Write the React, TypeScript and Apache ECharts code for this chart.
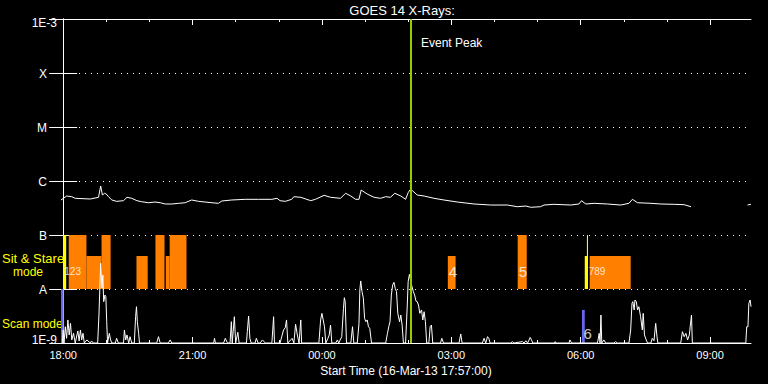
import React, { useEffect, useRef } from "react";
import * as echarts from "echarts";

// ---- Data (hours after 18:00 on 16-Mar-13, flux in W/m^2) ----
const X_MIN = -0.05; // 17:57
const X_MAX = 15.95; // 09:57

const xTickHours = [0, 3, 6, 9, 12, 15];
const xTickLabels = ["18:00", "21:00", "00:00", "03:00", "06:00", "09:00"];
const hourTicks = [0, 1, 2, 3, 4, 5, 6, 7, 8, 9, 10, 11, 12, 13, 14, 15];

const yTickExponents = [-9, -8, -7, -6, -5, -4, -3];
const yTickLabels = ["1E-9", "A", "B", "C", "M", "X", "1E-3"];

// GOES long channel (1-8 A)
const longChannel: [number, number | null][] = [
  [-0.05, 4.45e-7], [0.08, 5.27e-7], [0.2, 5.12e-7], [0.28, 4.78e-7], [0.63, 4.64e-7], [0.82, 4.99e-7],
  [0.87, 8.08e-7], [0.91, 5.5e-7], [0.96, 5.92e-7], [1.0, 5.74e-7], [1.05, 5.12e-7], [1.13, 4.45e-7],
  [1.24, 4.2e-7], [1.4, 4.32e-7], [1.48, 4.99e-7], [1.59, 4.78e-7], [1.71, 4.32e-7], [1.82, 4.13e-7],
  [1.98, 3.96e-7], [2.13, 4.08e-7], [2.25, 3.96e-7], [2.37, 3.75e-7], [2.52, 3.75e-7], [2.68, 3.86e-7],
  [2.83, 3.96e-7], [2.98, 4.45e-7], [3.14, 4.2e-7], [3.29, 4.08e-7], [3.45, 3.96e-7], [3.6, 3.86e-7],
  [3.68, 4.26e-7], [3.91, 4.45e-7], [4.22, 4.58e-7], [4.53, 4.58e-7], [4.84, 4.58e-7], [4.96, 4.78e-7],
  [5.03, 4.32e-7], [5.15, 4.2e-7], [5.3, 4.58e-7], [5.35, 5.12e-7], [5.51, 4.99e-7], [5.74, 4.32e-7],
  [5.85, 4.58e-7], [6.05, 5.43e-7], [6.2, 4.99e-7], [6.43, 4.78e-7], [6.55, 5.92e-7], [6.67, 5.27e-7],
  [6.78, 4.58e-7], [6.86, 4.58e-7], [6.91, 6.81e-7], [7.05, 5.74e-7], [7.21, 4.99e-7], [7.36, 4.78e-7],
  [7.48, 5.12e-7], [7.59, 4.99e-7], [7.69, 5.92e-7], [7.83, 5.27e-7], [7.94, 4.58e-7], [8.0, 6.07e-7],
  [8.04, 6.81e-7], [8.1, 6.61e-7], [8.21, 5.5e-7], [8.37, 5.27e-7], [8.6, 4.78e-7], [8.83, 4.45e-7],
  [9.14, 4.08e-7], [9.53, 3.75e-7], [9.91, 3.59e-7], [10.3, 3.59e-7], [10.53, 3.34e-7], [10.73, 3.44e-7],
  [10.84, 3.26e-7], [11.07, 3.34e-7], [11.15, 3.59e-7], [11.38, 3.7e-7], [11.77, 3.59e-7], [11.96, 3.75e-7],
  [12.02, 4.32e-7], [12.12, 3.75e-7], [12.31, 3.86e-7], [12.62, 3.75e-7], [12.93, 3.59e-7], [13.12, 3.86e-7],
  [13.2, 4.58e-7], [13.32, 3.96e-7], [13.63, 3.86e-7], [13.86, 3.75e-7], [14.17, 3.7e-7], [14.4, 3.64e-7],
  [14.56, 3.34e-7], [14.6, null], [15.87, 3.59e-7], [15.95, 3.7e-7],
];

// GOES short channel (0.5-4 A)
const shortChannel: [number, number][] = [
  [-0.02, 1e-9], [0.0, 1.74e-9], [0.02, 1e-9], [0.05, 2.0e-9], [0.08, 1.22e-9], [0.11, 2.67e-9], [0.14, 1.41e-9],
  [0.17, 2.31e-9], [0.2, 1.14e-9], [0.24, 1.51e-9], [0.28, 1e-9], [0.34, 1.67e-9], [0.37, 1.09e-9], [0.4, 1.74e-9],
  [0.43, 1.14e-9], [0.46, 1.51e-9], [0.49, 1e-9], [0.55, 1.14e-9], [0.63, 1e-9], [0.66, 1.09e-9], [0.7, 1e-9],
  [0.8, 1e-9], [0.83, 3.3e-9], [0.87, 3.0e-8], [0.9, 1.03e-8], [0.92, 1.81e-8], [0.94, 5.83e-9], [0.97, 7.74e-9],
  [0.99, 7.2e-9], [1.01, 2.48e-9], [1.03, 1e-9], [1.07, 1.51e-9], [1.1, 1.14e-9], [1.13, 1e-9], [1.21, 1e-9],
  [1.24, 1.22e-9], [1.28, 1e-9], [1.4, 1e-9], [1.42, 1.74e-9], [1.45, 1.14e-9], [1.48, 1.41e-9], [1.52, 1e-9],
  [1.55, 1.31e-9], [1.59, 1e-9], [1.65, 1e-9], [1.68, 3.07e-9], [1.7, 4.7e-9], [1.72, 2.48e-9], [1.75, 1.51e-9],
  [1.77, 1e-9], [2.17, 1e-9], [2.21, 1.31e-9], [2.25, 1e-9], [2.44, 1e-9], [2.48, 1.14e-9], [2.52, 1e-9],
  [3.49, 1e-9], [3.51, 1.22e-9], [3.53, 1e-9], [3.72, 1e-9], [3.76, 1.22e-9], [3.81, 1e-9], [3.87, 1e-9],
  [3.9, 2.48e-9], [3.92, 1e-9], [3.97, 3.07e-9], [4.0, 1e-9], [4.05, 1.58e-9], [4.08, 1e-9], [4.25, 1e-9],
  [4.27, 1.62e-9], [4.3, 3.16e-9], [4.33, 1.22e-9], [4.36, 1e-9], [4.45, 1e-9], [4.48, 1.22e-9], [4.52, 1e-9],
  [4.57, 1e-9], [4.62, 1.14e-9], [4.69, 1e-9], [4.84, 1e-9], [4.88, 3.07e-9], [4.9, 1e-9], [5.03, 1e-9],
  [5.11, 1.74e-9], [5.15, 1.92e-9], [5.18, 2.67e-9], [5.21, 1e-9], [5.31, 1.22e-9], [5.35, 1e-9], [5.39, 2.22e-9],
  [5.43, 1.41e-9], [5.47, 1e-9], [5.51, 2.67e-9], [5.53, 1e-9], [5.93, 1e-9], [5.97, 2.67e-9], [6.0, 3.54e-9],
  [6.03, 2.67e-9], [6.06, 2.0e-9], [6.09, 1e-9], [6.14, 1.22e-9], [6.17, 1.41e-9], [6.2, 2.15e-9], [6.23, 1e-9],
  [6.32, 1e-9], [6.36, 1.14e-9], [6.39, 1e-9], [6.46, 1.31e-9], [6.5, 4.39e-9], [6.52, 6.9e-9], [6.54, 5.83e-9],
  [6.57, 1e-9], [6.67, 1e-9], [6.71, 2.0e-9], [6.74, 1e-9], [6.82, 1e-9], [6.86, 2.31e-9], [6.88, 9.6e-9],
  [6.9, 1.41e-8], [6.93, 8.93e-9], [6.96, 6.9e-9], [6.99, 2.86e-9], [7.02, 2.48e-9], [7.05, 2.67e-9], [7.08, 2.0e-9],
  [7.11, 1.87e-9], [7.15, 1e-9], [7.48, 1e-9], [7.52, 1.51e-9], [7.55, 2.0e-9], [7.58, 2.48e-9], [7.61, 7.74e-9],
  [7.64, 1.18e-8], [7.67, 1.33e-8], [7.7, 1.03e-8], [7.73, 8.93e-9], [7.76, 3.54e-9], [7.8, 2.48e-9], [7.83, 3.3e-9],
  [7.86, 2.15e-9], [7.89, 1e-9], [7.94, 1e-9], [7.98, 5.05e-9], [8.0, 1.37e-8], [8.03, 1.87e-8], [8.06, 1.37e-8],
  [8.09, 1.1e-8], [8.12, 8.93e-9], [8.15, 7.74e-9], [8.18, 6.0e-9], [8.21, 5.83e-9], [8.24, 5.05e-9], [8.27, 3.54e-9],
  [8.31, 4.09e-9], [8.34, 2.67e-9], [8.37, 3.8e-9], [8.4, 2.48e-9], [8.43, 1e-9], [8.48, 1e-9], [8.51, 2.0e-9],
  [8.54, 2.15e-9], [8.57, 1e-9], [8.75, 1e-9], [8.78, 1.22e-9], [8.82, 1e-9], [9.18, 1e-9], [9.22, 1.47e-9],
  [9.25, 1e-9], [9.72, 1e-9], [9.76, 1.22e-9], [9.8, 1e-9], [9.84, 1.31e-9], [9.87, 1.22e-9], [9.9, 1e-9],
  [10.38, 1e-9], [10.42, 1.06e-9], [10.45, 1e-9], [10.65, 1.06e-9], [10.69, 1e-9], [10.73, 1.1e-9], [10.77, 1e-9],
  [10.83, 1.27e-9], [10.86, 1.14e-9], [10.89, 1e-9], [11.38, 1e-9], [11.41, 1.06e-9], [11.43, 1e-9], [11.73, 1e-9],
  [11.75, 1.14e-9], [11.79, 1e-9], [12.39, 1e-9], [12.43, 1.51e-9], [12.45, 1e-9], [12.47, 3.3e-9], [12.49, 1e-9],
  [12.54, 1.14e-9], [12.58, 1e-9], [12.77, 1e-9], [12.81, 1.06e-9], [12.85, 1e-9], [13.12, 1e-9], [13.16, 1.74e-9],
  [13.19, 5.43e-9], [13.21, 5.83e-9], [13.24, 4.09e-9], [13.26, 6.26e-9], [13.29, 5.83e-9], [13.32, 4.09e-9],
  [13.35, 4.7e-9], [13.39, 3.07e-9], [13.43, 1.74e-9], [13.45, 3.54e-9], [13.48, 1.41e-9], [13.52, 1.14e-9],
  [13.55, 1e-9], [13.63, 1e-9], [13.66, 1.22e-9], [13.7, 1.1e-9], [13.74, 2.31e-9], [13.77, 1.31e-9], [13.79, 1e-9],
  [14.32, 1e-9], [14.36, 1.62e-9], [14.4, 1.31e-9], [14.44, 1.51e-9], [14.48, 1.14e-9], [14.52, 1.41e-9],
  [14.54, 2.0e-9], [14.57, 3.3e-9], [14.59, 1e-9], [15.83, 1e-9], [15.85, 2.0e-9], [15.88, 2.0e-9], [15.9, 5.43e-9],
  [15.93, 6.26e-9], [15.95, 4.7e-9],
];

// Sit & Stare mode intervals (orange)
const sitStareStart = [0.13, 0.54, 0.89, 1.7, 2.14, 2.38, 2.47, 8.92, 10.54, 12.21];
const sitStareEnd = [0.54, 0.89, 1.1, 1.96, 2.35, 2.47, 2.86, 9.1, 10.75, 13.16];
const sitStareTop = [1e-7, 4.08e-8, 1e-7, 4.08e-8, 1e-7, 4.08e-8, 1e-7, 4.08e-8, 1e-7, 4.08e-8];
const sitStareBottom = 1e-8;

// Mode-switch markers (yellow)
const markerStart = [0.0, 12.095, 12.145];
const markerEnd = [0.07, 12.17, 12.17];
const markerTop = [1e-7, 4.08e-8, 1e-7];

// Scan mode intervals (blue)
const scanStart = [-0.05, 12.03];
const scanEnd = [0.01, 12.095];
const scanTop = [1e-8, 4.09e-9];
const scanBottom = 1e-9;

// Event numbers (large single labels, and small clustered labels)
const eventNames = ["4", "5", "6"];
const eventHours = [9.04, 10.66, 12.16];
const eventFlux = [2.07e-8, 2.07e-8, 1.53e-9];
const clusterNames = ["1", "2", "3", "7", "8", "9"];
const clusterHours = [0.09, 0.22, 0.35, 12.25, 12.38, 12.51];
const clusterFlux = [2.07e-8, 2.07e-8, 2.07e-8, 2.07e-8, 2.07e-8, 2.07e-8];

const eventPeakHour = 8.06;

const FONT = '"Liberation Sans", Arial, sans-serif';

export default function App() {
  const ref = useRef<HTMLDivElement>(null);

  useEffect(() => {
    if (!ref.current) return;
    const chart = echarts.init(ref.current, null, { renderer: "svg" });

    const rectData = (starts: number[], ends: number[], bottoms: number, tops: number[]) =>
      starts.map((s, i) => [s, ends[i], bottoms, tops[i]]);

    const rectSeries = (name: string, data: number[][], color: string, z: number) => ({
      name,
      type: "custom",
      xAxisIndex: 0,
      yAxisIndex: 0,
      z,
      silent: true,
      encode: { x: [0, 1], y: [2, 3] },
      data,
      renderItem: (_params: any, api: any) => {
        const p0 = api.coord([api.value(0), api.value(3)]);
        const p1 = api.coord([api.value(1), api.value(2)]);
        return {
          type: "rect",
          shape: { x: p0[0], y: p0[1], width: p1[0] - p0[0], height: p1[1] - p0[1] },
          style: { fill: color },
        };
      },
    });

    const labelSeries = (name: string, names: string[], hours: number[], flux: number[], size: number) => ({
      name,
      type: "scatter",
      xAxisIndex: 0,
      yAxisIndex: 0,
      symbolSize: 0,
      z: 5,
      silent: true,
      data: names.map((n, i) => ({ name: n, value: [hours[i], flux[i]] })),
      label: {
        show: true,
        position: "inside",
        formatter: "{b}",
        color: "#ffffff",
        fontFamily: FONT,
        fontSize: size,
      },
    });

    const xBase = { type: "value", min: X_MIN, max: X_MAX, splitLine: { show: false } };
    const white = { color: "#ffffff", width: 1 };

    const option: any = {
      animation: false,
      backgroundColor: "#000000",
      grid: { left: 61, right: 17, top: 19, bottom: 41, containLabel: false },
      xAxis: [
        {
          ...xBase,
          position: "bottom",
          axisLine: { show: true, lineStyle: white },
          axisTick: { show: true, inside: true, length: 6, customValues: xTickHours, lineStyle: white },
          axisLabel: {
            show: true,
            customValues: xTickHours,
            formatter: (v: number) => {
              const i = xTickHours.findIndex((h) => Math.abs(h - v) < 1e-6);
              return i >= 0 ? xTickLabels[i] : "";
            },
            color: "#ffffff",
            fontFamily: FONT,
            fontSize: 11,
            margin: 6,
          },
          name: "Start Time (16-Mar-13 17:57:00)",
          nameLocation: "middle",
          nameGap: 20,
          nameTextStyle: { color: "#ffffff", fontFamily: FONT, fontSize: 12 },
        },
        {
          ...xBase,
          position: "bottom",
          axisLine: { show: false },
          axisTick: { show: true, inside: true, length: 3, customValues: hourTicks, lineStyle: white },
          axisLabel: { show: false },
        },
        {
          ...xBase,
          position: "top",
          axisLine: { show: true, lineStyle: white },
          axisTick: { show: true, inside: true, length: 6, customValues: xTickHours, lineStyle: white },
          axisLabel: { show: false },
        },
        {
          ...xBase,
          position: "top",
          axisLine: { show: false },
          axisTick: { show: true, inside: true, length: 3, customValues: hourTicks, lineStyle: white },
          axisLabel: { show: false },
        },
      ],
      yAxis: [
        {
          type: "log",
          logBase: 10,
          min: 1e-9,
          max: 1e-3,
          interval: 1,
          position: "left",
          axisLine: { show: true, lineStyle: white },
          axisTick: { show: true, inside: true, length: 14, lineStyle: white },
          splitLine: { show: true, lineStyle: { color: "#ffffff", width: 1, type: [1, 5] } },
          axisLabel: {
            show: true,
            color: "#ffffff",
            fontFamily: FONT,
            fontSize: 12,
            margin: 4,
            formatter: (v: number) => {
              const e = Math.round(Math.log10(v));
              const i = yTickExponents.indexOf(e);
              if (i < 0) return "";
              if (i === yTickExponents.length - 1) return "{top|" + yTickLabels[i] + "}";
              if (i === 0) return "{bot|" + yTickLabels[i] + "}";
              return "{cls|" + yTickLabels[i] + "}";
            },
            rich: {
              top: { color: "#ffffff", fontFamily: FONT, fontSize: 12, padding: [8, 0, 0, 0] },
              bot: { color: "#ffffff", fontFamily: FONT, fontSize: 12, padding: [0, 0, 7, 0] },
              cls: { color: "#ffffff", fontFamily: FONT, fontSize: 12, padding: [1, 10, 0, 0] },
            },
          },
        },
        {
          type: "log",
          logBase: 10,
          min: 1e-9,
          max: 1e-3,
          interval: 1,
          position: "right",
          axisLine: { show: true, lineStyle: white },
          axisTick: { show: true, inside: true, length: 14, lineStyle: white },
          splitLine: { show: false },
          axisLabel: { show: false },
        },
      ],
      series: [
        rectSeries("Sit & Stare", rectData(sitStareStart, sitStareEnd, sitStareBottom, sitStareTop), "#ff8000", 2),
        rectSeries("Mode marker", rectData(markerStart, markerEnd, sitStareBottom, markerTop), "#ffff00", 3),
        rectSeries("Scan", rectData(scanStart, scanEnd, scanBottom, scanTop), "#6666ee", 3),
        {
          name: "GOES 1-8 A",
          type: "line",
          xAxisIndex: 0,
          yAxisIndex: 0,
          data: longChannel,
          showSymbol: false,
          connectNulls: false,
          lineStyle: { color: "#ffffff", width: 1 },
          silent: true,
          z: 4,
        },
        {
          name: "GOES 0.5-4 A",
          type: "line",
          xAxisIndex: 0,
          yAxisIndex: 0,
          data: shortChannel,
          showSymbol: false,
          lineStyle: { color: "#ffffff", width: 1 },
          silent: true,
          z: 4,
        },
        labelSeries("Events", eventNames, eventHours, eventFlux, 15),
        labelSeries("Event clusters", clusterNames, clusterHours, clusterFlux, 10),
        {
          name: "Event Peak",
          type: "line",
          xAxisIndex: 0,
          yAxisIndex: 0,
          data: [],
          z: 6,
          markLine: {
            silent: true,
            symbol: "none",
            animation: false,
            label: { show: false },
            lineStyle: { color: "#99cc00", width: 2, type: "solid" },
            data: [{ xAxis: eventPeakHour }],
          },
        },
      ],
      graphic: [
        {
          type: "text",
          x: 402,
          y: 10,
          style: {
            text: "GOES 14 X-Rays:",
            fill: "#ffffff",
            font: `13px ${FONT}`,
            textAlign: "center",
            textVerticalAlign: "middle",
          },
        },
        {
          type: "text",
          x: 421,
          y: 43,
          style: { text: "Event Peak", fill: "#ffffff", font: `12px ${FONT}`, textAlign: "left", textVerticalAlign: "middle" },
        },
        {
          type: "text",
          x: 2,
          y: 258.5,
          style: {
            text: "Sit & Stare",
            fill: "#ffff00",
            font: `13px ${FONT}`,
            lineHeight: 12,
            textAlign: "left",
            textVerticalAlign: "middle",
          },
        },
        {
          type: "text",
          x: 13,
          y: 271.5,
          style: {
            text: "mode",
            fill: "#ffff00",
            font: `12px ${FONT}`,
            lineHeight: 12,
            textAlign: "left",
            textVerticalAlign: "middle",
          },
        },
        {
          type: "text",
          x: 2,
          y: 324,
          style: { text: "Scan mode", fill: "#ffff00", font: `12px ${FONT}`, textAlign: "left", textVerticalAlign: "middle" },
        },
      ],
    };

    chart.setOption(option);
    return () => chart.dispose();
  }, []);

  return (
    <div
      ref={ref}
      style={{ position: "fixed", left: 0, top: 0, width: 768, height: 384, background: "#000000" }}
    />
  );
}
